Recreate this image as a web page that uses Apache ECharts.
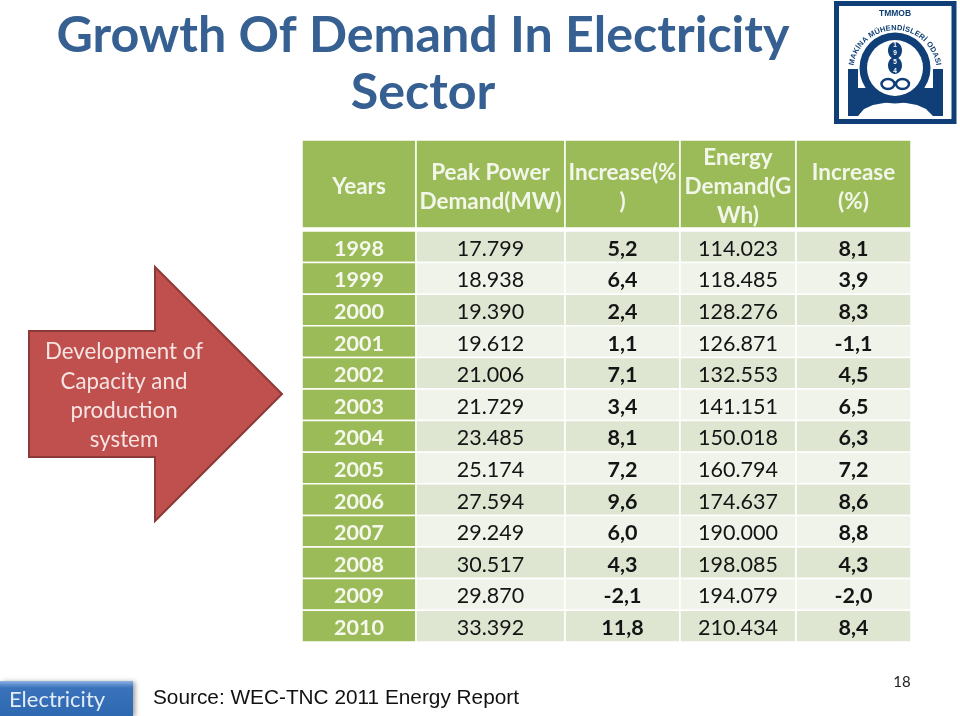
<!DOCTYPE html>
<html><head><meta charset="utf-8">
<style>html,body{margin:0;padding:0;background:#fff}#c{width:960px;height:716px}</style>
<script src="https://cdn.jsdelivr.net/npm/echarts@6/dist/echarts.min.js"></script>
</head><body><div id="c"></div>
<script>
const titleText = 'Growth Of Demand In Electricity\nSector';
const headers = ['Years', 'Peak Power\nDemand(MW)', 'Increase(%\n)', 'Energy\nDemand(G\nWh)', 'Increase\n(%)'];
const years = [1998,1999,2000,2001,2002,2003,2004,2005,2006,2007,2008,2009,2010];
const peakPower = [17799,18938,19390,19612,21006,21729,23485,25174,27594,29249,30517,29870,33392];
const powerIncrease = [5.2,6.4,2.4,1.1,7.1,3.4,8.1,7.2,9.6,6.0,4.3,-2.1,11.8];
const energyDemand = [114023,118485,128276,126871,132553,141151,150018,160794,174637,190000,198085,194079,210434];
const energyIncrease = [8.1,3.9,8.3,-1.1,4.5,6.5,6.3,7.2,8.6,8.8,4.3,-2.0,8.4];
const arrowLines = 'Development of\nCapacity and\nproduction\nsystem';
const sourceText = 'Source: WEC-TNC 2011 Energy Report';
const buttonText = 'Electricity';
const pageNumber = '18';
const logoArcText = 'MAKİNA MÜHENDİSLERİ ODASI';
const logoYears = ['1','9','5','4'];

const FONT = 'Lato';
const GREEN = '#9BBB59', BAND1 = '#DEE6D2', BAND2 = '#EFF3EA', NAVY = '#0F3F76';
const colSizes = [114,149,115,116,115];
const thousands = v => String(Math.floor(v/1000)) + '.' + String(v%1000).padStart(3,'0');
const pct = v => v.toFixed(1).replace('.', ',');

const xNames = headers.map((h,i)=>'c'+i);
const yNames = ['head','gap'].concat(years.map(String));
const cells = [];
headers.forEach((h,c)=>cells.push({
  value:[xNames[c],'head',1],
  itemStyle:{color:GREEN},
  label:{formatter:h,color:'#F3F6EA',fontWeight:'bold',fontSize:22.5,lineHeight:29,offset:[0,3]}
}));
years.forEach((yr,r)=>{
  const row=String(yr), band=r%2===0?BAND1:BAND2;
  const cols=[String(yr),thousands(peakPower[r]),pct(powerIncrease[r]),thousands(energyDemand[r]),pct(energyIncrease[r])];
  cols.forEach((t,c)=>cells.push({
    value:[xNames[c],row,1],
    itemStyle:{color:c===0?GREEN:band},
    label:{formatter:t,
      color:c===0?'#F6F8EE':'#141414',
      fontWeight:(c===1||c===3)?'normal':'bold',fontSize:21.5,offset:[0,2]}
  }));
});

// Logo pieces
const cx=895, cy=68;
const logo=[
  {type:'rect',shape:{x:836.5,y:3.5,width:117.5,height:118},style:{fill:'#fff',stroke:NAVY,lineWidth:5}},
  {type:'rect',shape:{x:848,y:69,width:10,height:47},style:{fill:NAVY}},
  {type:'rect',shape:{x:933,y:69,width:10,height:47},style:{fill:NAVY}},
  {type:'polygon',shape:{points:[[856,88],[858,116],[864,109],[873,105],[884,103],[895,102],[906,103],[917,105],[926,109],[933,116],[935,88]]},style:{fill:NAVY}},
  {type:'circle',shape:{cx:cx,cy:cy,r:35.5},style:{fill:NAVY}},
  {type:'circle',shape:{cx:cx,cy:cy,r:28},style:{fill:'#fff'}},
  {type:'ellipse',shape:{cx:cx,cy:50.5,rx:7,ry:8.5},style:{fill:NAVY}},
  {type:'ellipse',shape:{cx:cx,cy:65.5,rx:7,ry:8.5},style:{fill:NAVY}},
  {type:'ellipse',shape:{cx:888,cy:84,rx:6.5,ry:5},style:{fill:'none',stroke:NAVY,lineWidth:2.5}},
  {type:'ellipse',shape:{cx:902.5,cy:84,rx:6.5,ry:5},style:{fill:'none',stroke:NAVY,lineWidth:2.5}},
  {type:'text',x:cx,y:14,style:{text:'TMMOB',fill:NAVY,font:'bold 8.5px "Liberation Sans"',textAlign:'center',textVerticalAlign:'middle'}}
];
logoYears.forEach((d,i)=>logo.push({type:'text',x:cx,y:45+i*8.6,style:{text:d,fill:'#fff',font:'bold 6.5px "Liberation Sans"',textAlign:'center',textVerticalAlign:'middle'}}));
const arcFont='bold 7.5px "Liberation Sans"';
const mctx=document.createElement('canvas').getContext('2d'); mctx.font=arcFont;
const chars=[...logoArcText], arcR=44, arcCy=72, a0=-1.42, a1=1.42;
const widths=chars.map(ch=>mctx.measureText(ch).width+0.6);
const total=widths.reduce((s,w)=>s+w,0);
let run=0;
chars.forEach((ch,i)=>{
  const a=a0+(a1-a0)*(run+widths[i]/2)/total; run+=widths[i];
  logo.push({type:'text',x:cx+arcR*Math.sin(a),y:arcCy-arcR*Math.cos(a),rotation:-a,
    style:{text:ch,fill:NAVY,font:arcFont,textAlign:'center',textVerticalAlign:'middle'}});
});

const chart=echarts.init(document.getElementById('c'),null,{renderer:'canvas'});
chart.setOption({
  animation:false,
  backgroundColor:'#fff',
  title:{text:titleText,left:418,top:3,textAlign:'center',
    textStyle:{fontFamily:'Lato',fontWeight:'bold',fontSize:50.2,lineHeight:56.5,color:'#366092'}},
  matrix:{
    left:302,top:140,width:609,height:502,
    x:{show:false,data:xNames.map((n,i)=>({value:n,size:colSizes[i]}))},
    y:{show:false,data:yNames.map(n=>({value:n,size:n==='head'?88:n==='gap'?3:31.6}))},
    body:{itemStyle:{borderWidth:0,color:'transparent'},silent:true},
    backgroundStyle:{color:'transparent',borderWidth:0},
    borderZ2:0
  },
  series:[{
    type:'heatmap',coordinateSystem:'matrix',
    data:cells,
    label:{show:true,fontFamily:FONT,align:'center',verticalAlign:'middle'},
    itemStyle:{borderColor:'#fff',borderWidth:1.5},
    emphasis:{disabled:true}
  }],
  graphic:{elements:[
    {type:'polygon',shape:{points:[[29,331],[155,331],[155,267],[282,394],[155,521],[155,457],[29,457]]},
      style:{fill:'#C0504D',stroke:'#8C3A38',lineWidth:2}},
    {type:'text',x:124,y:396,style:{text:arrowLines,fill:'#F5E4E3',font:'22.3px '+FONT,lineHeight:29.3,textAlign:'center',textVerticalAlign:'middle'}},
    {type:'rect',shape:{x:0,y:681,width:133,height:35},
      style:{fill:new echarts.graphic.LinearGradient(0,0,0,1,[
        {offset:0,color:'#8FB2E0'},{offset:0.1,color:'#5F8FCF'},{offset:0.2,color:'#3A73BC'},{offset:1,color:'#2E68B0'}]),
        shadowBlur:5,shadowColor:'rgba(0,0,0,0.4)',shadowOffsetX:2,shadowOffsetY:1}},
    {type:'text',x:9,y:700,style:{text:buttonText,fill:'#E3ECF7',font:'22px '+FONT,textAlign:'left',textVerticalAlign:'middle'}},
    {type:'text',x:153,y:698,style:{text:sourceText,fill:'#111',font:'20.8px "Liberation Sans"',textAlign:'left',textVerticalAlign:'middle'}},
    {type:'text',x:902,y:682,style:{text:pageNumber,fill:'#222',font:'15px '+FONT,textAlign:'center',textVerticalAlign:'middle'}}
  ].concat(logo)}
});
</script></body></html>
